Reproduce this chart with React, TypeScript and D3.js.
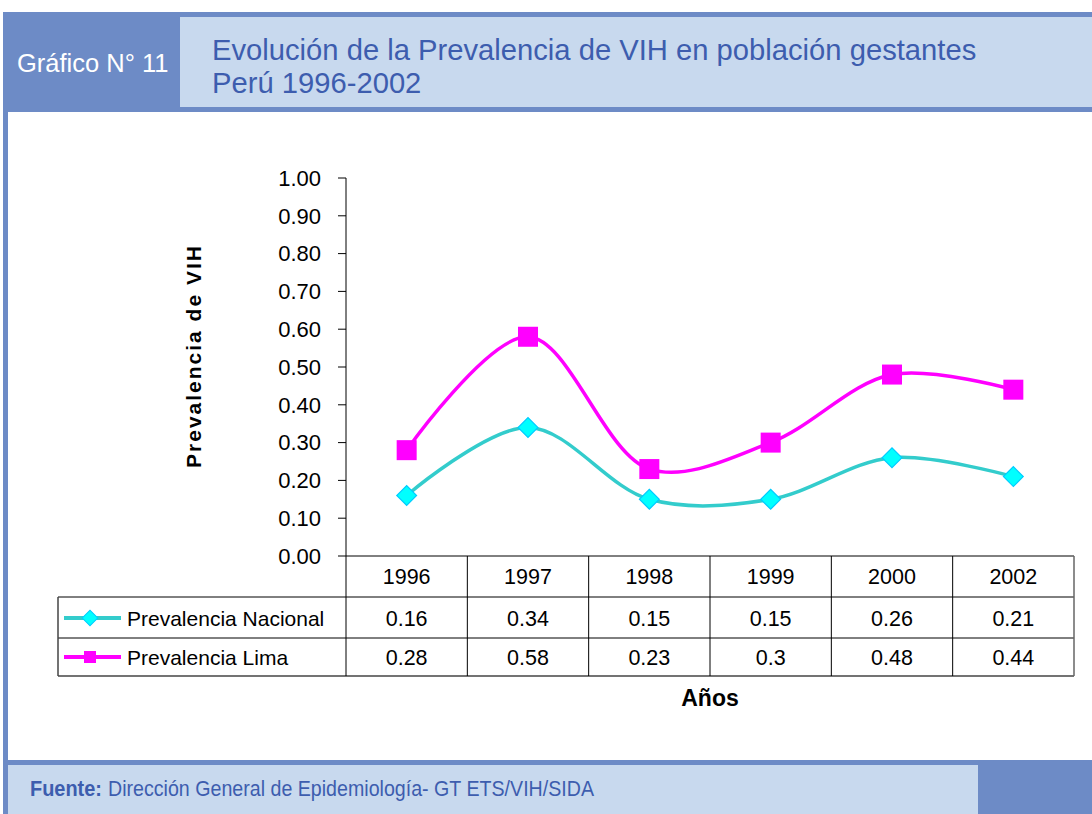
import React from "react";
import * as d3 from "d3";

const years = ["1996", "1997", "1998", "1999", "2000", "2002"];
const nacional = [0.16, 0.34, 0.15, 0.15, 0.26, 0.21];
const lima = [0.28, 0.58, 0.23, 0.3, 0.48, 0.44];
const nacionalLabels = ["0.16", "0.34", "0.15", "0.15", "0.26", "0.21"];
const limaLabels = ["0.28", "0.58", "0.23", "0.3", "0.48", "0.44"];
const yTicks = [0, 0.1, 0.2, 0.3, 0.4, 0.5, 0.6, 0.7, 0.8, 0.9, 1.0];

const DARK = "#6D8BC6";
const LIGHT = "#C8D9EE";
const TEXTBLUE = "#3D5DAE";

export default function App() {
  const W = 1092, H = 814;
  const x0 = 346, x1 = 1074;
  const x = d3.scaleBand<string>().domain(years).range([x0, x1]);
  const y = d3.scaleLinear().domain([0, 1]).range([556, 178]);
  const cx = (i: number) => (x(years[i]) as number) + x.bandwidth() / 2;
  const line = d3
    .line<number>()
    .x((_, i) => cx(i))
    .y((d) => y(d))
    .curve(d3.curveCatmullRom.alpha(0.5));

  const rowTop = 556, row1 = 597, row2 = 638, rowBot = 676;
  const legX = 58;
  const font = "'Liberation Sans', Arial, sans-serif";

  return (
    <svg width={W} height={H} style={{ position: "absolute", left: 0, top: 0, display: "block" }}>
      <rect x={0} y={0} width={W} height={H} fill="#fff" />
      {/* header */}
      <rect x={3} y={12} width={W - 3} height={100} fill={DARK} />
      <rect x={180} y={17} width={W - 180} height={90} fill={LIGHT} />
      <text x={17} y={72} fill="#fff" fontFamily={font} fontSize={25.5}>Gráfico N° 11</text>
      <text x={212} y={60} fill={TEXTBLUE} fontFamily={font} fontSize={29.2}>
        Evolución de la Prevalencia de VIH en población gestantes
      </text>
      <text x={212} y={93} fill={TEXTBLUE} fontFamily={font} fontSize={29.2}>Perú 1996-2002</text>
      {/* left border */}
      <rect x={3} y={12} width={5} height={H - 12} fill={DARK} />
      {/* footer */}
      <rect x={8} y={760} width={W - 8} height={H - 760} fill={DARK} />
      <rect x={8} y={765} width={970} height={H - 765} fill={LIGHT} />
      <text
        x={30}
        y={796}
        fill={TEXTBLUE}
        fontFamily={font}
        fontSize={22}
        fontWeight="bold"
        textLength={72}
        lengthAdjust="spacingAndGlyphs"
      >
        Fuente:
      </text>
      <text
        x={108}
        y={796}
        fill={TEXTBLUE}
        fontFamily={font}
        fontSize={22}
        textLength={486}
        lengthAdjust="spacingAndGlyphs"
      >
        Dirección General de Epidemiología- GT ETS/VIH/SIDA
      </text>

      {/* y axis */}
      <line x1={x0} y1={178} x2={x0} y2={rowTop} stroke="#000" strokeWidth={1} />
      {yTicks.map((t) => (
        <g key={t}>
          <line x1={338} x2={x0} y1={y(t)} y2={y(t)} stroke="#000" />
          <text x={321} y={y(t)} dy="0.35em" textAnchor="end" fontFamily={font} fontSize={22} fill="#000">
            {t.toFixed(2)}
          </text>
        </g>
      ))}
      <text
        transform={`translate(201,356) rotate(-90)`}
        textAnchor="middle"
        fontFamily={font}
        fontSize={21}
        fontWeight="bold"
        letterSpacing={2}
        fill="#000"
      >
        Prevalencia de VIH
      </text>

      {/* data table */}
      <line x1={x0} x2={x1} y1={rowTop} y2={rowTop} stroke="#000" />
      <line x1={legX} x2={x1} y1={row1} y2={row1} stroke="#000" />
      <line x1={legX} x2={x1} y1={row2} y2={row2} stroke="#000" />
      <line x1={legX} x2={x1} y1={rowBot} y2={rowBot} stroke="#444" strokeWidth={1.5} />
      <line x1={legX} x2={legX} y1={row1} y2={rowBot} stroke="#444" strokeWidth={1.5} />
      {years.map((yr) => (
        <line key={yr} x1={x(yr)} x2={x(yr)} y1={rowTop} y2={rowBot} stroke="#000" />
      ))}
      <line x1={x1} x2={x1} y1={rowTop} y2={rowBot} stroke="#666" strokeWidth={1.5} />
      {years.map((yr, i) => (
        <g key={"t" + yr} fontFamily={font} fontSize={21.5} fill="#000" textAnchor="middle">
          <text x={cx(i)} y={576} dy="0.35em">{yr}</text>
          <text x={cx(i)} y={618} dy="0.35em">{nacionalLabels[i]}</text>
          <text x={cx(i)} y={657} dy="0.35em">{limaLabels[i]}</text>
        </g>
      ))}
      {/* legend keys */}
      <line x1={64} x2={121} y1={618} y2={618} stroke="#33CCCC" strokeWidth={4} />
      <rect x={84.5} y={612.5} width={11} height={11} transform="rotate(45 90 618)" fill="#00FFFF" stroke="#00CCFF" strokeWidth={1} />
      <text x={127} y={619} dy="0.35em" fontFamily={font} fontSize={21} fill="#000">Prevalencia Nacional</text>
      <line x1={64} x2={121} y1={657} y2={657} stroke="#FF00FF" strokeWidth={4} />
      <rect x={84} y={651} width={12} height={12} fill="#FF00FF" />
      <text x={127} y={658} dy="0.35em" fontFamily={font} fontSize={21} fill="#000">Prevalencia Lima</text>

      <text x={710} y={698} dy="0.35em" textAnchor="middle" fontFamily={font} fontSize={23} fontWeight="bold" fill="#000">
        Años
      </text>

      {/* lines */}
      <path d={line(nacional) || ""} fill="none" stroke="#33CCCC" strokeWidth={3.5} />
      <path d={line(lima) || ""} fill="none" stroke="#FF00FF" strokeWidth={3.5} />
      {nacional.map((v, i) => (
        <rect
          key={"n" + i}
          x={cx(i) - 7}
          y={y(v) - 7}
          width={14}
          height={14}
          transform={`rotate(45 ${cx(i)} ${y(v)})`}
          fill="#00FFFF"
          stroke="#00CCFF"
          strokeWidth={1.2}
        />
      ))}
      {lima.map((v, i) => (
        <rect key={"l" + i} x={cx(i) - 10} y={y(v) - 10} width={20} height={20} fill="#FF00FF" />
      ))}
    </svg>
  );
}
